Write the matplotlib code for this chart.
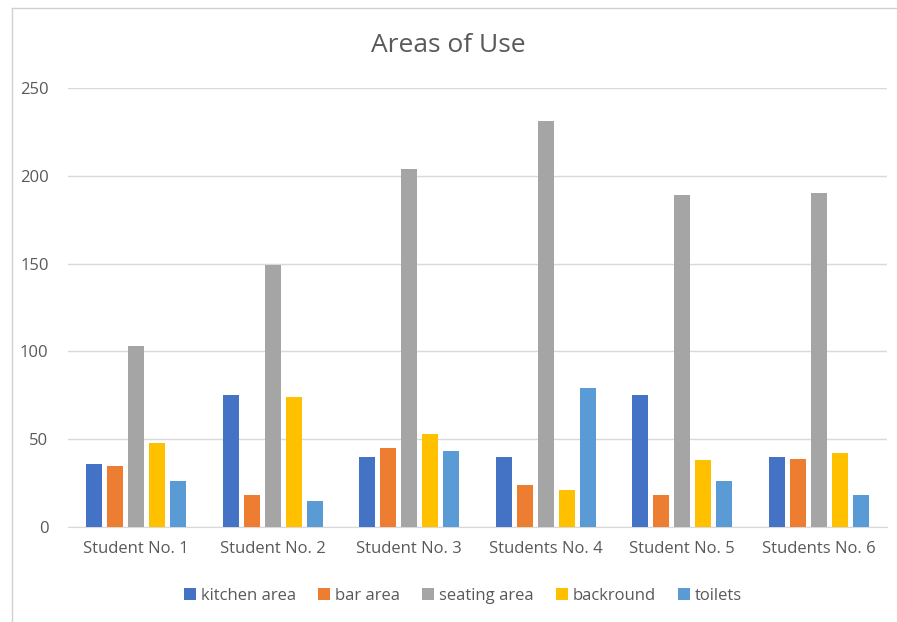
import numpy as np
import matplotlib.pyplot as plt
from matplotlib.lines import Line2D

plt.rcParams['font.family'] = ['Open Sans', 'DejaVu Sans']

students = ['Student No. 1', 'Student No. 2', 'Student No. 3',
            'Students No. 4', 'Student No. 5', 'Students No. 6']
kitchen_area = [36, 75, 40, 40, 75, 40]
bar_area = [35, 18, 45, 24, 18, 39]
seating_area = [103, 149, 204, 231, 189, 190]
backround = [48, 74, 53, 21, 38, 42]
toilets = [26, 15, 43, 79, 26, 18]

series = [
    ('kitchen area', kitchen_area, '#4472C4'),
    ('bar area', bar_area, '#ED7D31'),
    ('seating area', seating_area, '#A5A5A5'),
    ('backround', backround, '#FFC000'),
    ('toilets', toilets, '#5B9BD5'),
]

fig = plt.figure(figsize=(8.97, 6.22), dpi=100)
ax = fig.add_axes([68 / 897, 1 - 527 / 622, 819 / 897, 439 / 622])

x = np.arange(len(students))
step = 0.154
width = 0.117
for i, (name, vals, color) in enumerate(series):
    ax.bar(x + (i - 2) * step, vals, width, color=color, label=name, zorder=3)

ax.set_xlim(-0.5, len(students) - 0.5)
ax.set_ylim(0, 250)
ax.set_yticks(range(0, 251, 50))
ax.set_xticks(x)
ax.set_xticklabels(students)
ax.grid(axis='y', color='#D9D9D9', linewidth=1, zorder=0)
for s in ['top', 'right', 'left']:
    ax.spines[s].set_visible(False)
ax.spines['bottom'].set_color('#D9D9D9')
ax.tick_params(axis='both', length=0, labelsize=12, colors='#595959')
ax.tick_params(axis='y', pad=14)
ax.tick_params(axis='x', pad=10)

fig.text(0.5, 1 - 45 / 622, 'Areas of Use', ha='center', va='center',
         fontsize=19, color='#595959')

fig.legend(loc='center', bbox_to_anchor=(463 / 897, 1 - 596 / 622), ncol=5,
           frameon=False, fontsize=12, labelcolor='#595959',
           handlelength=0.7, handleheight=0.7, handletextpad=0.3,
           columnspacing=1.35)

# thin chart frame on left and top
fig.add_artist(Line2D([12 / 897, 12 / 897], [0, 1 - 8 / 622],
                      transform=fig.transFigure, color='#D0D0D0', lw=1))
fig.add_artist(Line2D([12 / 897, 1], [1 - 8 / 622, 1 - 8 / 622],
                      transform=fig.transFigure, color='#D0D0D0', lw=1))

fig.savefig('out.png', dpi=100)
